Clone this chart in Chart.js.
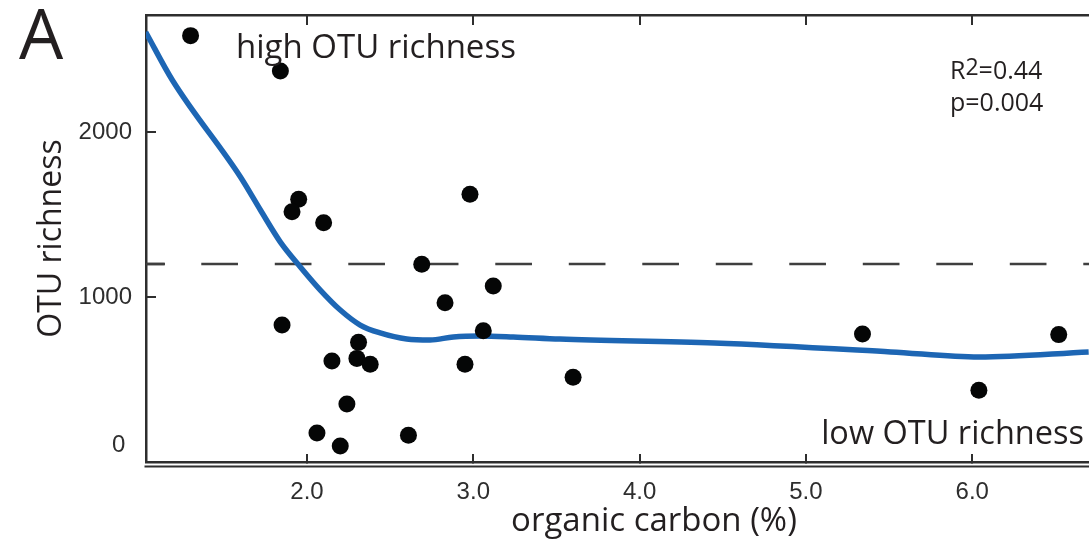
<!DOCTYPE html>
<html>
<head>
<meta charset="utf-8">
<title>OTU richness vs organic carbon</title>
<script src="https://cdn.jsdelivr.net/npm/chart.js@4.4.1/dist/chart.umd.min.js"></script>
<style>
  html, body { margin: 0; padding: 0; background: #fff; }
  #wrap { width: 1089px; height: 548px; overflow: hidden; }
</style>
</head>
<body>
<div id="wrap"><canvas id="otuChart" width="1089" height="548"></canvas></div>
<script>
// samples: organic carbon (%) vs OTU richness
const carbon = [1.30, 1.84, 1.95, 1.91, 2.10, 2.98, 2.69, 3.12, 2.83, 1.85, 3.06, 2.31,
                2.15, 2.30, 2.38, 2.95, 2.24, 2.06, 2.20, 2.61, 3.60, 5.34, 6.52, 6.04];
const richness = [2584, 2370, 1592, 1517, 1450, 1622, 1198, 1067, 965, 830, 796, 725,
                  612, 628, 592, 592, 352, 176, 97, 162, 513, 776, 772, 435];

// smoothed fit (blue curve)
const fitCarbon = [1.03, 1.19, 1.60, 1.72, 1.84, 1.96, 2.08, 2.20, 2.32, 2.44, 2.60,
                   2.74, 2.88, 3.04, 3.24, 3.52, 4.45, 5.51, 6.04, 6.70];
const fitRichness = [2606, 2315, 1727, 1527, 1333, 1182, 1042, 921, 830, 782, 745,
                     739, 758, 764, 758, 745, 721, 667, 636, 667];

// dashed threshold, drawn right to left, plus the short first dash at the axis
const threshold = 1200;
const thresholdSpan = [6.75, 0.90];
const thresholdLead = [1.032, 1.146];
const xTicks = [2, 3, 4, 5, 6];
const yTicks = [0, 1000, 2000];
const xRange = [1.032, 6.702];
const yRange = [0, 2709];

const ink = '#2e2e2e';
const blue = '#1d66b4';
const dashInk = '#3f3f3f';

// keep the plot area where the figure has it
function noPad(s) {
  s.paddingTop = 0;
  s.paddingBottom = 0;
  s.paddingLeft = 0;
  s.paddingRight = 0;
}

const extras = {
  id: 'extras',
  afterDraw(chart) {
    const ctx = chart.ctx;
    const area = chart.chartArea;
    ctx.save();
    // second bottom rule
    ctx.strokeStyle = ink;
    ctx.lineWidth = 2;
    ctx.beginPath();
    ctx.moveTo(area.left - 1.5, area.bottom + 4.5);
    ctx.lineTo(area.right, area.bottom + 4.5);
    ctx.stroke();

    ctx.fillStyle = '#231f20';
    ctx.textBaseline = 'alphabetic';
    ctx.font = '70px "Open Sans"';
    ctx.textAlign = 'left';
    ctx.fillText('A', 19, 59);

    ctx.font = '33px "Open Sans"';
    ctx.fillText('high OTU richness', 236, 58);
    ctx.textAlign = 'right';
    ctx.font = '32.5px "Open Sans"';
    ctx.fillText('low OTU richness', 1084, 444);

    ctx.textAlign = 'center';
    ctx.textBaseline = 'middle';
    ctx.font = '33px "Open Sans"';
    ctx.fillText('organic carbon (%)', 654, 522);

    ctx.textAlign = 'left';
    ctx.textBaseline = 'alphabetic';
    ctx.font = '25px "Open Sans"';
    ctx.fillText('R', 950, 79);
    let w = ctx.measureText('R').width;
    ctx.font = '23px "Open Sans"';
    ctx.fillText('2', 950 + w, 75);
    w += ctx.measureText('2').width;
    ctx.font = '25px "Open Sans"';
    ctx.fillText('=0.44', 950 + w, 79);
    ctx.fillText('p=0.004', 950, 111);
    ctx.restore();
  }
};

const ctx = document.getElementById('otuChart').getContext('2d');
new Chart(ctx, {
  type: 'scatter',
  data: {
    datasets: [
      {
        label: 'samples',
        data: carbon.map((c, i) => ({ x: c, y: richness[i] })),
        backgroundColor: '#050606',
        borderWidth: 0,
        pointRadius: 8.5,
        order: 0
      },
      {
        type: 'line',
        label: 'fit',
        data: fitCarbon.map((c, i) => ({ x: c, y: fitRichness[i] })),
        borderColor: blue,
        borderWidth: 5.5,
        pointRadius: 0,
        cubicInterpolationMode: 'monotone',
        fill: false,
        clip: 0,
        order: 1
      },
      {
        type: 'line',
        label: 'threshold',
        data: thresholdSpan.map(x => ({ x: x, y: threshold })),
        borderColor: dashInk,
        borderWidth: 2.5,
        borderDash: [36.7, 36.8],
        borderDashOffset: 23,
        pointRadius: 0,
        fill: false,
        clip: 0,
        order: 2
      },
      {
        type: 'line',
        label: 'threshold lead',
        data: thresholdLead.map(x => ({ x: x, y: threshold })),
        borderColor: dashInk,
        borderWidth: 2.5,
        pointRadius: 0,
        fill: false,
        clip: 0,
        order: 3
      }
    ]
  },
  options: {
    responsive: false,
    animation: false,
    events: [],
    layout: { padding: 0, autoPadding: false },
    plugins: { legend: { display: false }, tooltip: { enabled: false } },
    scales: {
      x: {
        type: 'linear',
        position: 'bottom',
        min: xRange[0],
        max: xRange[1],
        afterBuildTicks: s => { s.ticks = xTicks.map(v => ({ value: v })); },
        afterFit: s => { s.height = 86; noPad(s); },
        ticks: {
          padding: 24,
          color: ink,
          font: { family: '"Liberation Sans", Arial, sans-serif', size: 24 },
          callback: v => v.toFixed(1)
        },
        grid: { drawOnChartArea: false, drawTicks: true, tickLength: -8, color: ink, lineWidth: 2 },
        border: { display: true, color: ink, width: 2.5 }
      },
      x2: {
        type: 'linear',
        position: 'top',
        min: xRange[0],
        max: xRange[1],
        afterBuildTicks: s => { s.ticks = xTicks.map(v => ({ value: v })); },
        afterFit: s => { s.height = 15; noPad(s); },
        ticks: { display: false },
        grid: { drawOnChartArea: false, drawTicks: true, tickLength: -10, color: ink, lineWidth: 2 },
        border: { display: true, color: ink, width: 2.5 }
      },
      y: {
        type: 'linear',
        position: 'left',
        min: yRange[0],
        max: yRange[1],
        afterBuildTicks: s => { s.ticks = yTicks.map(v => ({ value: v })); },
        afterFit: s => { s.width = 146; noPad(s); },
        ticks: {
          padding: 24,
          color: ink,
          font: { family: '"Liberation Sans", Arial, sans-serif', size: 24, lineHeight: 1.42 },
          callback: v => (v === 0 ? ['0 ', ''] : String(v))
        },
        grid: { drawOnChartArea: false, drawTicks: true, tickLength: -10, color: ink, lineWidth: 2 },
        border: { display: true, color: ink, width: 2.5 },
        title: {
          display: true,
          text: 'OTU richness',
          color: '#231f20',
          font: { family: '"Open Sans"', size: 32 },
          padding: { top: 33, bottom: 0 }
        }
      }
    }
  },
  plugins: [extras]
});
</script>
</body>
</html>
